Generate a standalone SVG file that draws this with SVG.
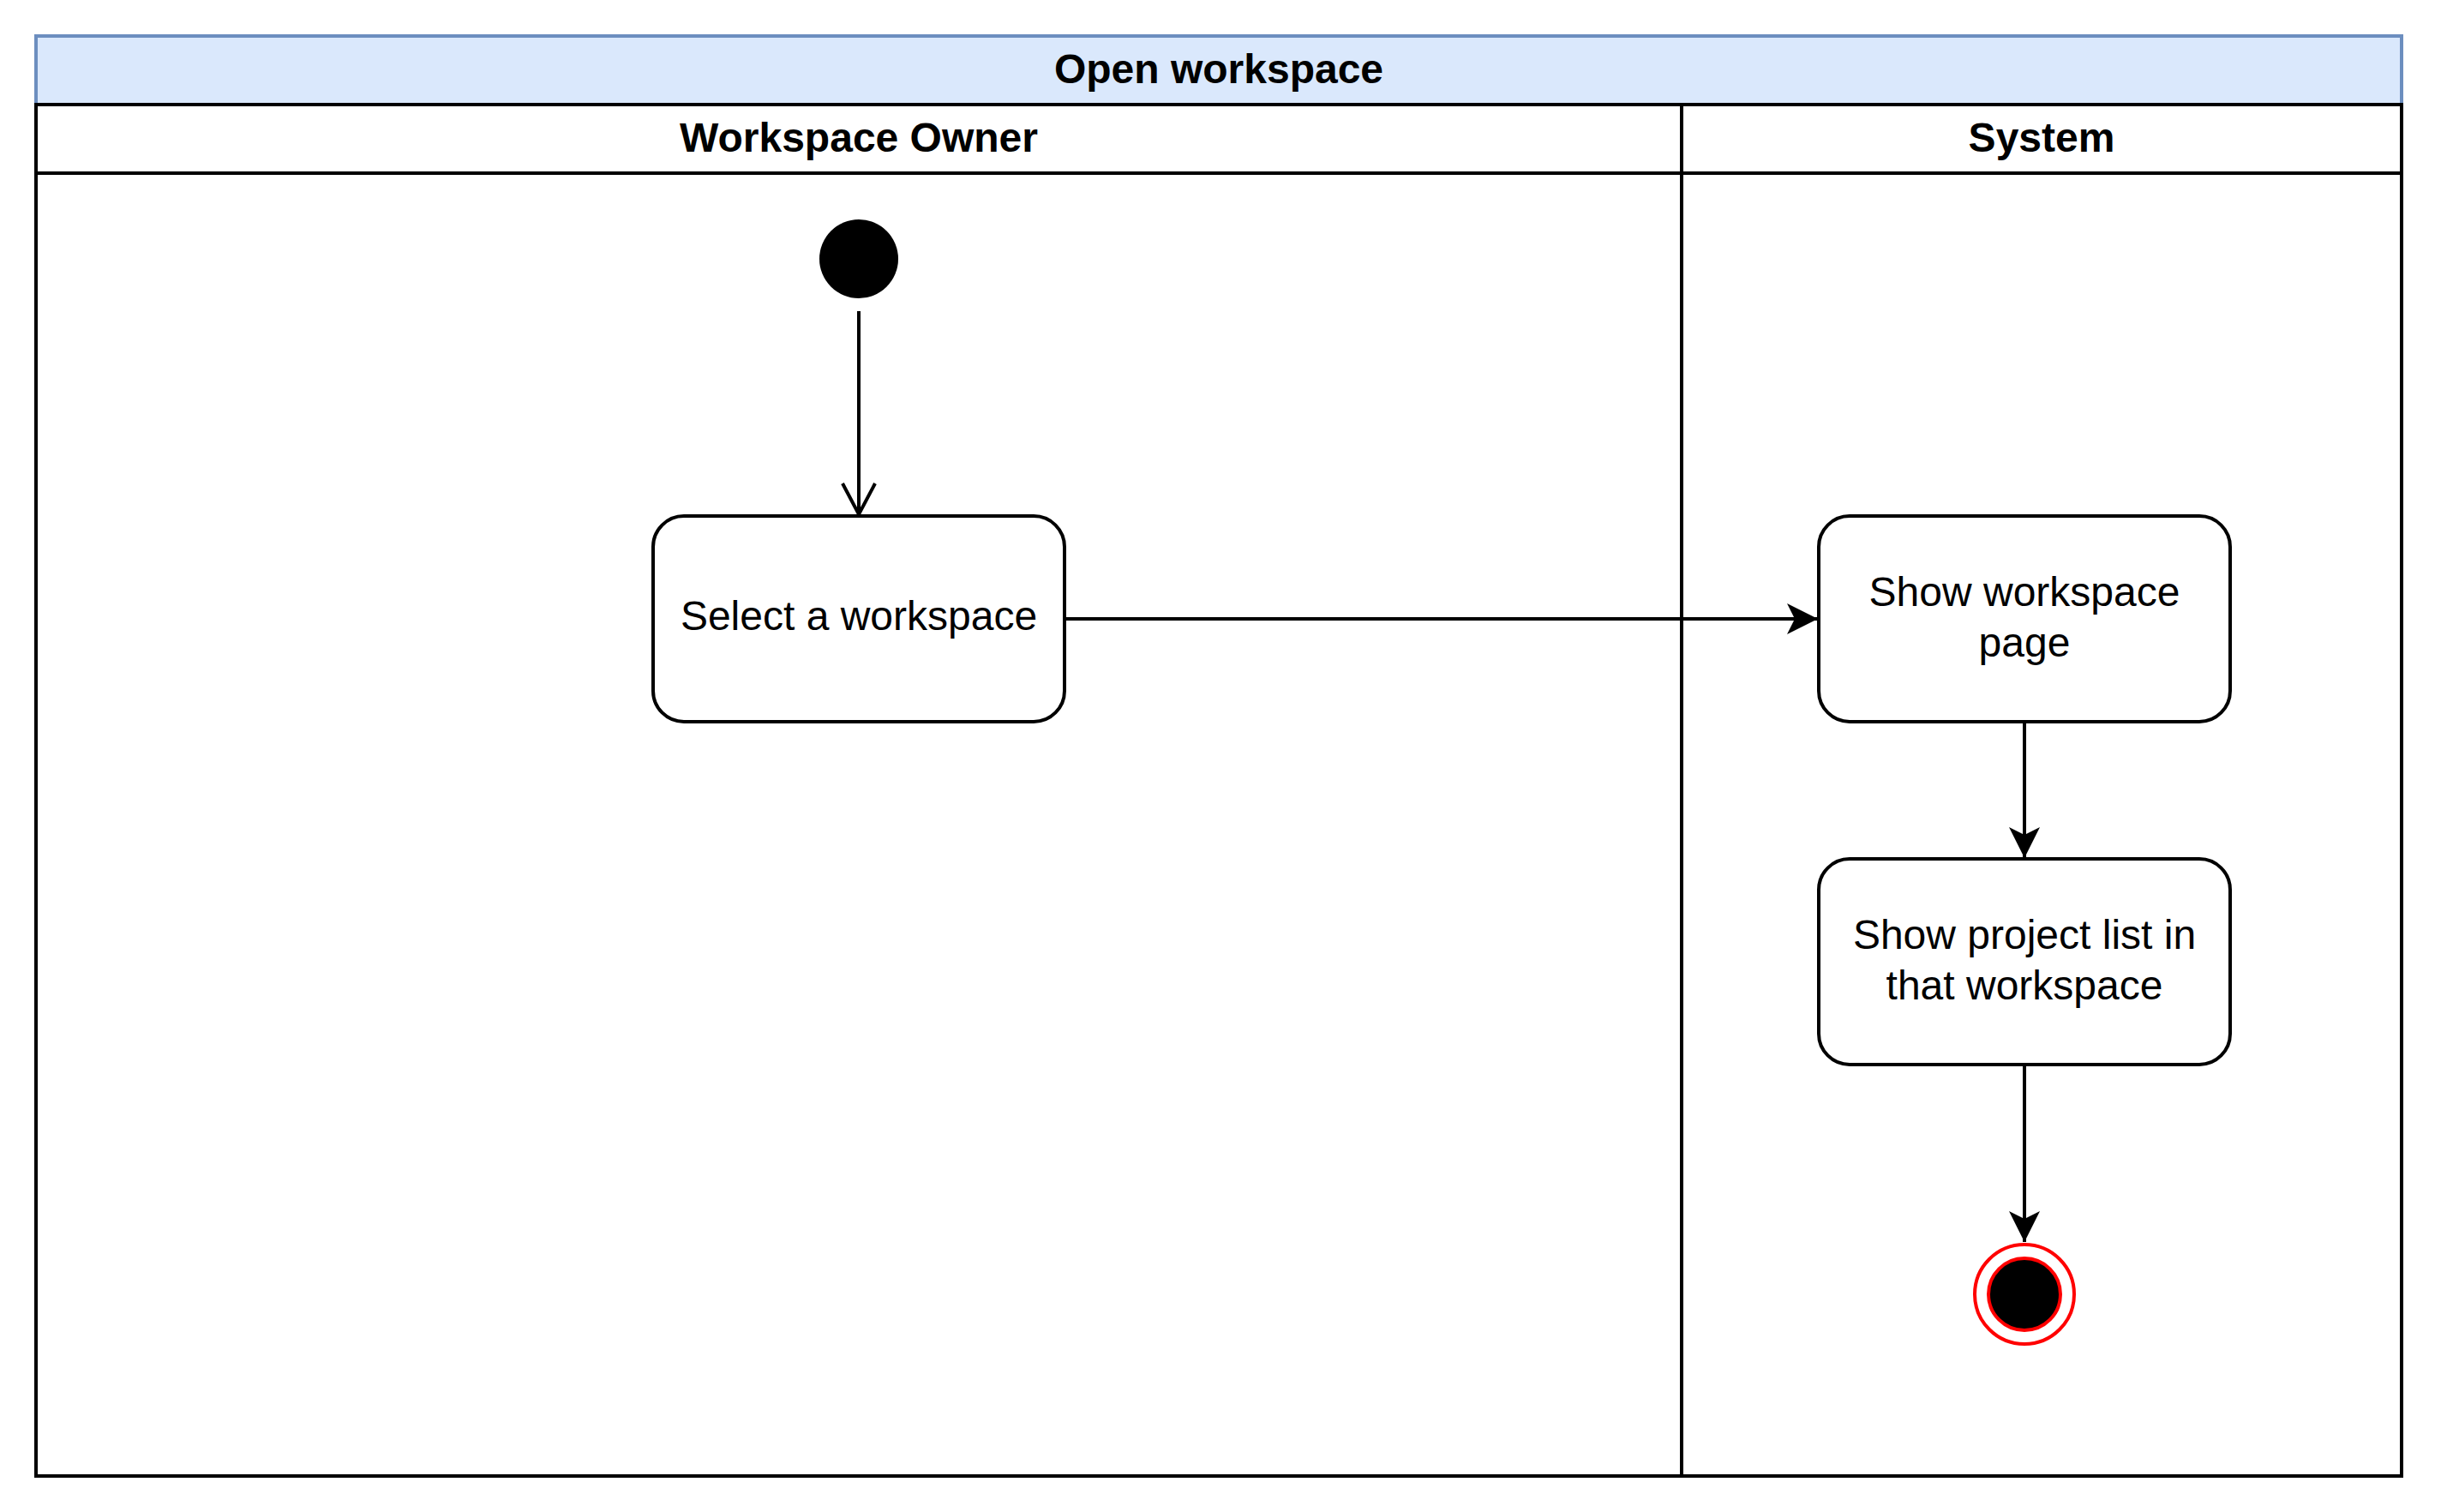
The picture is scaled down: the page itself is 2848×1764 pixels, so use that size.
<svg xmlns="http://www.w3.org/2000/svg" width="2848" height="1764" viewBox="0 0 2848 1764">
  <style>
    .lane { fill: #ffffff; stroke: #000000; stroke-width: 4; }
    .hdr { font-family: "Liberation Sans", Arial, sans-serif; font-size: 48px; font-weight: bold; fill: #000000; text-anchor: middle; }
    .act { fill: #ffffff; stroke: #000000; stroke-width: 4; }
    .lbl { font-family: "Liberation Sans", Arial, sans-serif; font-size: 48px; fill: #000000; text-anchor: middle; }
    .edge { fill: none; stroke: #000000; stroke-width: 4; }
  </style>
  <defs>
    <marker id="classic" markerUnits="userSpaceOnUse" markerWidth="40" markerHeight="40" viewBox="-38 -20 40 40" refX="0" refY="0" orient="auto">
      <path d="M0,0 L-36,-18 L-27,0 L-36,18 Z" fill="#000000"/>
    </marker>
    <marker id="open" markerUnits="userSpaceOnUse" markerWidth="44" markerHeight="44" viewBox="-40 -22 44 44" refX="0" refY="0" orient="auto">
      <path d="M-36,-19 L0,0 L-36,19" fill="none" stroke="#000000" stroke-width="4"/>
    </marker>
  </defs>
  <rect width="2848" height="1764" fill="#ffffff"/>

  <g id="pool">
    <rect x="42" y="42" width="2760" height="80" fill="#dae8fc" stroke="#6c8ebf" stroke-width="4"/>
    <text class="hdr" x="1422" y="97">Open workspace</text>
  </g>

  <g id="lane-owner">
    <rect class="lane" x="42" y="122" width="1920" height="1600"/>
    <line x1="42" y1="202" x2="1962" y2="202" stroke="#000000" stroke-width="4"/>
    <text class="hdr" x="1002" y="177">Workspace Owner</text>
  </g>

  <g id="lane-system">
    <rect class="lane" x="1962" y="122" width="840" height="1600"/>
    <line x1="1962" y1="202" x2="2802" y2="202" stroke="#000000" stroke-width="4"/>
    <text class="hdr" x="2382" y="177">System</text>
  </g>

  <g id="connectors">
    <line class="edge" x1="1002" y1="363" x2="1002" y2="600" marker-end="url(#open)"/>
    <line class="edge" x1="1242" y1="722" x2="2121" y2="722" marker-end="url(#classic)"/>
    <line class="edge" x1="2362" y1="842" x2="2362" y2="1001" marker-end="url(#classic)"/>
    <line class="edge" x1="2362" y1="1242" x2="2362" y2="1449" marker-end="url(#classic)"/>
  </g>

  <g id="start">
    <circle cx="1002" cy="302" r="46" fill="#000000"/>
  </g>

  <g id="select-workspace">
    <rect class="act" x="762" y="602" width="480" height="240" rx="36" ry="36"/>
    <text class="lbl" x="1002" y="735">Select a workspace</text>
  </g>

  <g id="show-workspace-page">
    <rect class="act" x="2122" y="602" width="480" height="240" rx="36" ry="36"/>
    <text class="lbl" x="2362" y="707">Show workspace</text>
    <text class="lbl" x="2362" y="766">page</text>
  </g>

  <g id="show-project-list">
    <rect class="act" x="2122" y="1002" width="480" height="240" rx="36" ry="36"/>
    <text class="lbl" x="2362" y="1107">Show project list in</text>
    <text class="lbl" x="2362" y="1166">that workspace</text>
  </g>

  <g id="end">
    <circle cx="2362" cy="1510" r="58" fill="#ffffff" stroke="#ff0000" stroke-width="4"/>
    <circle cx="2362" cy="1510" r="42" fill="#000000" stroke="#ff0000" stroke-width="4"/>
  </g>
</svg>
